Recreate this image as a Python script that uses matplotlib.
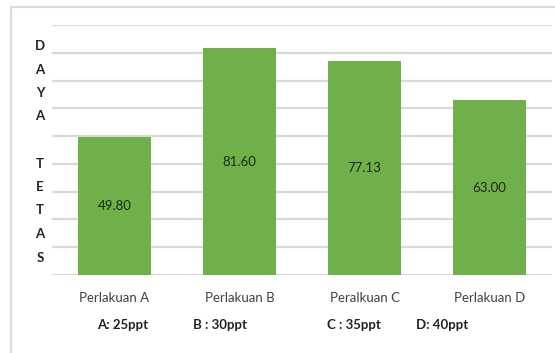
import matplotlib.pyplot as plt
from matplotlib.patches import Rectangle

plt.rcParams['font.family'] = ['Lato', 'DejaVu Sans']

categories = ['Perlakuan A', 'Perlakuan B', 'Peralkuan C', 'Perlakuan D']
values = [49.80, 81.60, 77.13, 63.00]
value_labels = ['49.80', '81.60', '77.13', '63.00']
notes = ['A: 25ppt', 'B : 30ppt', 'C : 35ppt', 'D: 40ppt']
note_x = [123, 220, 354, 442]
ylabel_letters = ['D', 'A', 'Y', 'A', '', 'T', 'E', 'T', 'A', 'S']

W, H = 555, 353
fig = plt.figure(figsize=(W / 100, H / 100), dpi=100)
ax = fig.add_axes([52 / W, 1 - 275 / H, 500 / W, 250 / H])

x = range(len(categories))
bars = ax.bar(x, values, width=0.58, color='#70b04a', zorder=3)

for b, lab in zip(bars, value_labels):
    ax.text(b.get_x() + b.get_width() / 2, b.get_height() / 2, lab,
            ha='center', va='center', fontsize=9.5, color='#1e2a14', zorder=4)

ax.set_xlim(-0.5, 3.5)
ax.set_ylim(0, 90)
ax.set_yticks(range(0, 91, 10))
ax.yaxis.grid(True, color='#d9d9d9', linewidth=1.6, zorder=0)
ax.tick_params(axis='y', left=False, labelleft=False)
ax.tick_params(axis='x', bottom=False, pad=9)
ax.set_xticks(list(x))
ax.set_xticklabels(categories, fontsize=9.5, color='#404040')
for s in ax.spines.values():
    s.set_visible(False)

# stacked axis title letters
for i, ch in enumerate(ylabel_letters):
    fig.text(40 / W, 1 - (46 + i * 23.5) / H, ch, ha='center', va='center',
             fontsize=9.5, fontweight='bold', color='#222222')

for nx, t in zip(note_x, notes):
    fig.text(nx / W, 1 - 325 / H, t, ha='center', va='center',
             fontsize=9.5, fontweight='bold', color='#222222')

# outer chart border (top and left visible)
fig.patches.append(Rectangle((11 / W, -0.1), 1.2, 1 - 7 / H + 0.1,
                             transform=fig.transFigure, fill=False,
                             edgecolor='#dcdcdc', linewidth=1.5))

fig.savefig('out.png', dpi=100)
